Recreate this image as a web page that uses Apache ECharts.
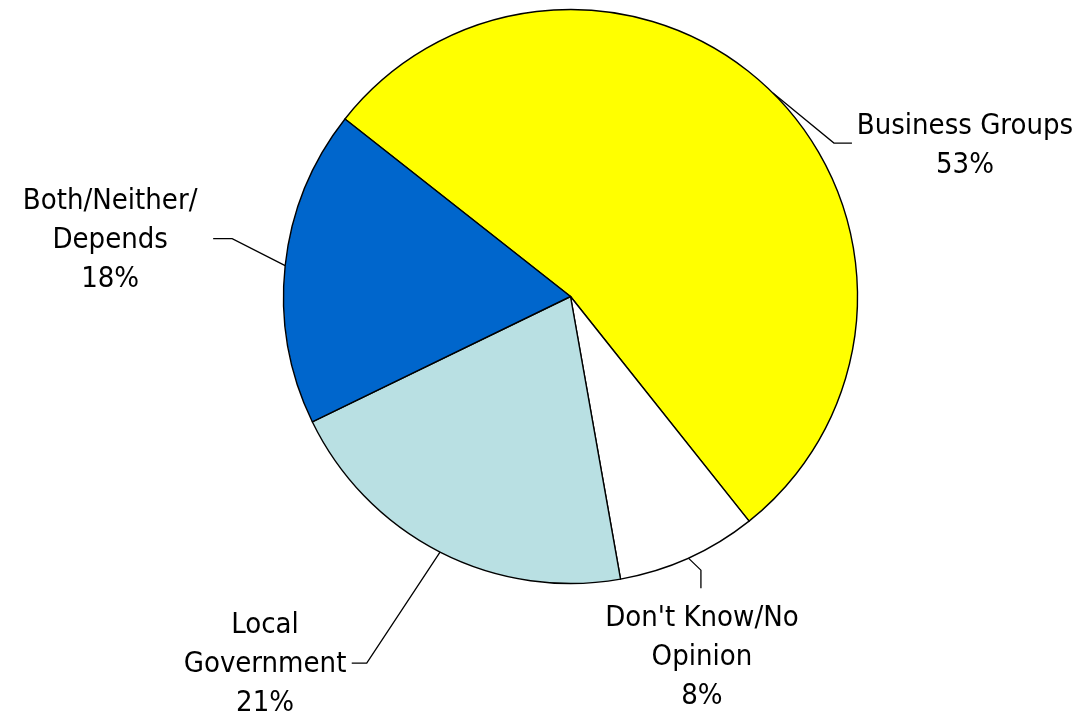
<!DOCTYPE html>
<html>
<head>
<meta charset="utf-8">
<script src="https://cdn.jsdelivr.net/npm/echarts@6/dist/echarts.min.js"></script>
<style>
html, body { margin: 0; padding: 0; background: #ffffff; }
#chart { width: 1076px; height: 717px; }
</style>
</head>
<body>
<div id="chart"></div>
<script>
// Slice names (as printed), slice shares, printed percentages
const categories = ['Business Groups', "Don't Know/No\nOpinion", 'Local\nGovernment', 'Both/Neither/\nDepends'];
const sliceShares = [53.7, 7.9, 20.6, 17.8];
const printedPercents = [53, 8, 21, 18];

const sliceColors = ['#FFFF00', '#FFFFFF', '#B9E0E3', '#0066CC'];

// leader-line geometry relative to the slice's edge point (bend, end, label centre)
const leaderOffsets = [
  { bend: [61, 50], end: [79, 50], label: [192, 53] },
  { bend: [12.5, 12], end: [12.5, 30], label: [13.5, 99] },
  { bend: [-73.3, 111], end: [-88.3, 111], label: [-175, 112] },
  { bend: [-53, -27], end: [-72, -27], label: [-175, -25] }
];

const chart = echarts.init(document.getElementById('chart'), null, { renderer: 'canvas' });

const option = {
  animation: false,
  backgroundColor: '#ffffff',
  series: [{
    type: 'pie',
    center: [570.5, 296.5],
    radius: 287,
    startAngle: 141.8,
    clockwise: true,
    avoidLabelOverlap: false,
    silent: true,
    data: categories.map((name, i) => ({
      name: name,
      value: sliceShares[i],
      itemStyle: { color: sliceColors[i] }
    })),
    itemStyle: { borderColor: '#000000', borderWidth: 1.4 },
    label: {
      show: true,
      position: 'outside',
      width: 400,
      overflow: 'none',
      formatter: p => p.name + '\n' + printedPercents[p.dataIndex] + '%',
      fontFamily: "'DejaVu Sans Condensed', 'DejaVu Sans', sans-serif",
      fontSize: 29,
      lineHeight: 39,
      color: '#000000',
      align: 'center'
    },
    labelLine: {
      show: true,
      length: 20,
      length2: 20,
      lineStyle: { color: '#000000', width: 1.3 }
    },
    emphasis: { disabled: true },
    labelLayout: function (params) {
      const o = leaderOffsets[params.dataIndex];
      const pts = params.labelLinePoints;
      if (!o || !pts) return {};
      const e = pts[0];
      return {
        x: e[0] + o.label[0],
        y: e[1] + o.label[1],
        align: 'center',
        verticalAlign: 'middle',
        labelLinePoints: [
          [e[0], e[1]],
          [e[0] + o.bend[0], e[1] + o.bend[1]],
          [e[0] + o.end[0], e[1] + o.end[1]]
        ]
      };
    }
  }]
};

chart.setOption(option);
</script>
</body>
</html>
